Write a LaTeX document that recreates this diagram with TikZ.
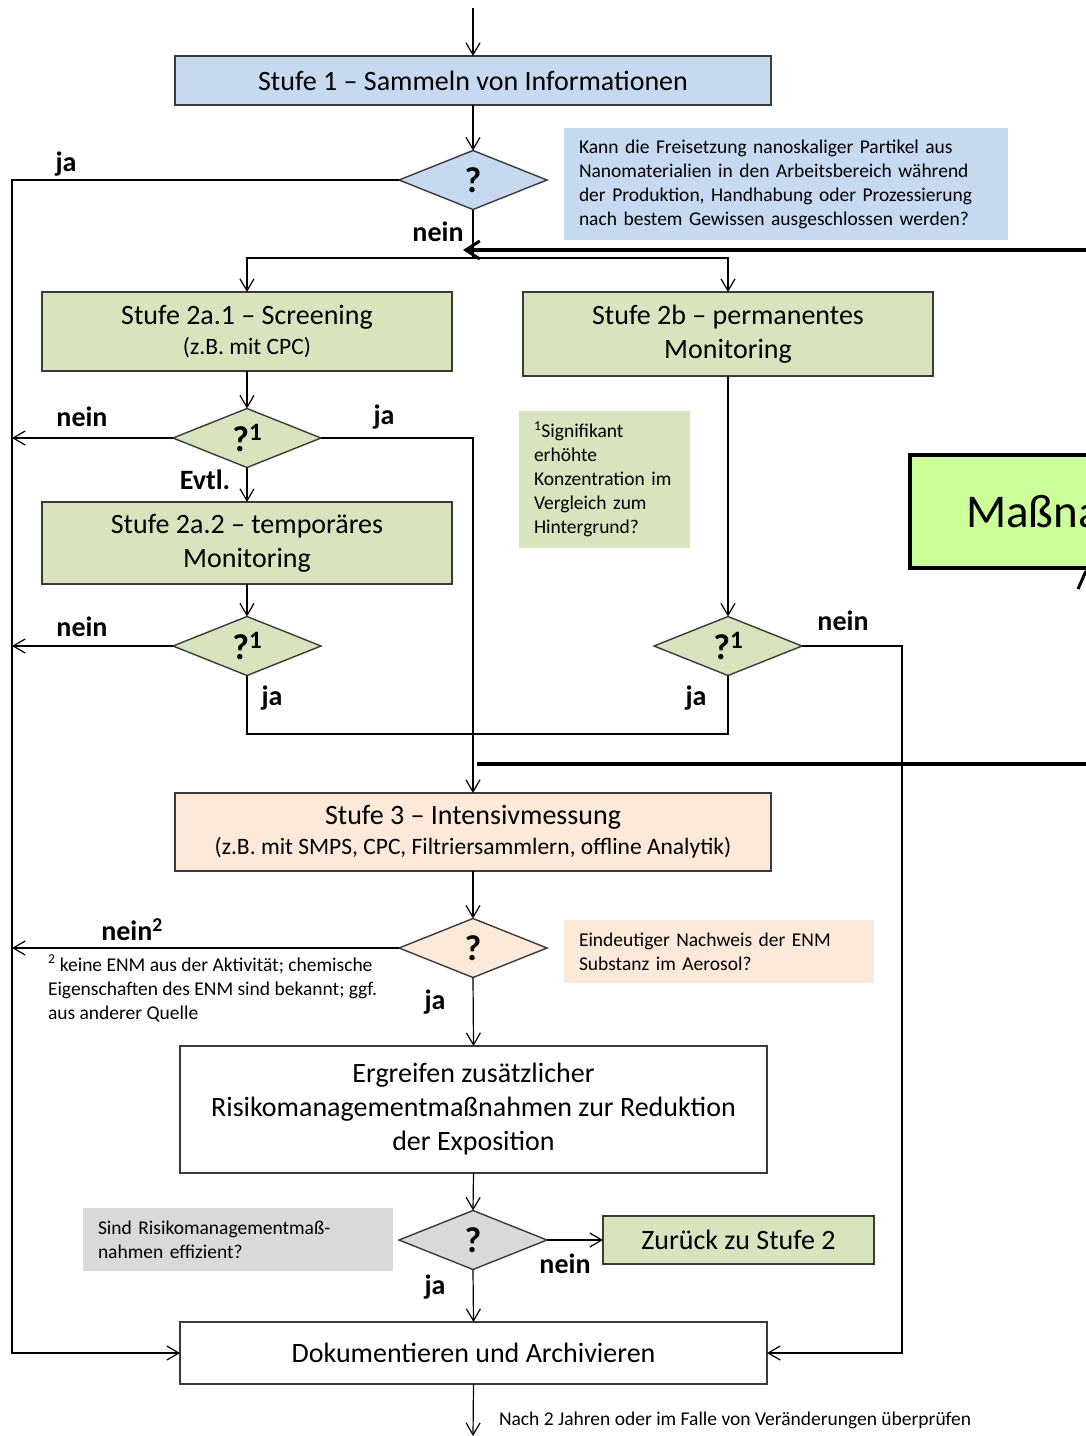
\documentclass[tikz,border=0pt]{standalone}
\usepackage{fontspec}
\setmainfont{Carlito}
\usetikzlibrary{arrows.meta,shapes.geometric}
\definecolor{cblue}{HTML}{C6D9F1}
\definecolor{cgreen}{HTML}{D7E4BD}
\definecolor{corange}{HTML}{FDE9D9}
\definecolor{cgray}{HTML}{D9D9D9}
\definecolor{clime}{HTML}{CCFF99}
\definecolor{cborder}{HTML}{3A3A3A}
\newcommand{\fbig}{\fontsize{28}{34}\selectfont}
\newcommand{\fsub}{\fontsize{23.5}{28}\selectfont}
\newcommand{\flab}{\fontsize{28}{30}\selectfont\bfseries}
\newcommand{\fnote}{\fontsize{19.5}{24}\selectfont}
\newcommand{\fq}{\fontsize{36}{36}\selectfont\bfseries}
\newcommand{\fhuge}{\fontsize{47}{50}\selectfont}
\newcommand{\qone}{?\raisebox{0.3em}{\fontsize{25}{25}\selectfont 1}}
\begin{document}
\begin{tikzpicture}[x=1pt,y=-1pt,
  every node/.style={inner sep=0pt, outer sep=0pt},
  box/.style={draw=cborder, line width=1.4pt, rectangle, align=center, font=\fbig},
  dia/.style={draw=cborder, line width=1.4pt, diamond, minimum width=148pt, minimum height=59pt, font=\fq},
  conn/.style={line width=1.2pt, draw=black},
  arr/.style={conn, -{Straight Barb[length=12pt,width=14pt,line width=1.2pt]}},
  lab/.style={font=\flab},
  note/.style={rectangle, align=left, font=\fnote, inner xsep=15pt, anchor=north west},
  heavy/.style={line width=3.6pt}
]
\useasboundingbox (0,0) rectangle (1086,1436);
\clip (0,0) rectangle (1086,1436);

% notes
\node[note, fill=cblue, text width=414pt, minimum height=112pt] (n1) at (564,128)
  {Kann die Freisetzung nanoskaliger\ Partikel aus\\Nanomaterialien in den Arbeitsbereich während\\der Produktion, Handhabung oder Prozessierung\\nach bestem Gewissen ausgeschlossen werden?};
\node[note, fill=cgreen, text width=141pt, minimum height=137pt] (n2) at (519,411)
  {\textsuperscript{1}Signifikant\\erhöhte\\Konzentration im\\Vergleich zum\\Hintergrund?};
\node[note, fill=corange, text width=280pt, minimum height=63pt] (n3) at (564,920)
  {Eindeutiger Nachweis der ENM\\Substanz im Aerosol?};
\node[note, fill=cgray, text width=280pt, minimum height=63pt] (n4) at (83,1208)
  {Sind Risikomanagementmaß-\\nahmen effizient?};
\node[note, inner xsep=0pt] (n5) at (48,955)
  {\textsuperscript{2} keine ENM aus der Aktivität;\ chemische\\Eigenschaften des ENM sind bekannt; ggf.\\aus anderer Quelle};
\node[note, inner xsep=0pt, anchor=west] (n6) at (499,1420)
  {Nach 2 Jahren oder im Falle von Veränderungen überprüfen};

% boxes
\node[box, fill=cblue, minimum width=596pt, minimum height=49pt] (s1) at (473,80.5)
  {Stufe 1 – Sammeln von Informationen};
\node[box, fill=cgreen, minimum width=410pt, minimum height=79pt] (s2a) at (247,331.5)
  {Stufe 2a.1 – Screening\\[-4pt]{\fsub (z.B. mit CPC)}};
\node[box, fill=cgreen, minimum width=410pt, minimum height=84pt] (s2b) at (728,334)
  {Stufe 2b – permanentes\\Monitoring};
\node[box, fill=cgreen, minimum width=410pt, minimum height=82pt] (s2c) at (247,543)
  {Stufe 2a.2 – temporäres\\Monitoring};
\node[box, fill=corange, minimum width=596pt, minimum height=78pt] (s3) at (473,832)
  {Stufe 3 – Intensivmessung\\[-4pt]{\fsub (z.B. mit SMPS, CPC, Filtriersammlern, offline Analytik)}};
\node[box, fill=white, minimum width=587pt, minimum height=127pt] (erg) at (473.5,1109.5)
  {Ergreifen zusätzlicher\\Risikomanagementmaßnahmen zur Reduktion\\der Exposition};
\node[box, fill=cgreen, minimum width=271pt, minimum height=48pt] (zur) at (738.5,1240)
  {Zurück zu Stufe 2};
\node[box, draw=black, line width=4pt, fill=clime, minimum height=113pt, anchor=west,
      text width=260pt, align=left, inner xsep=56pt] (mass) at (910,511.5)
  {\fhuge Maßnahmen};
\node[box, fill=white, minimum width=587pt, minimum height=62pt] (doku) at (473.5,1353)
  {Dokumentieren und Archivieren};

% diamonds
\node[dia, fill=cblue] (d1) at (473,180) {?};
\node[dia, fill=cgreen] (d2) at (247,438) {\qone};
\node[dia, fill=cgreen] (d3) at (247,646) {\qone};
\node[dia, fill=cgreen] (d4) at (728,646) {\qone};
\node[dia, fill=corange] (d5) at (473,948) {?};
\node[dia, fill=cgray] (d6) at (473,1240) {?};

% coordinates
\coordinate (top) at (473,8);
\coordinate (L) at (12,180);
\coordinate (split) at (473,258);
\coordinate (R) at (902,646);
\coordinate (jy) at (600,734);
\coordinate (bot) at (473,1436);
\coordinate (hA) at (1100,250);
\coordinate (tipA) at (463,250);
\coordinate (hB) at (1100,764);
\coordinate (endB) at (477,764);
\coordinate (m1) at (1078,589);
\coordinate (m2) at (1086,571);

% connectors
\draw[arr] (top) -- (s1.north);
\draw[arr] (s1.south) -- (d1.north);
\draw[arr] (d1.west) -- (L) |- (doku.west);
\draw[conn] (d1.south) -- (split);
\draw[arr] (split) -| (s2a.north);
\draw[arr] (split) -| (s2b.north);
\draw[arr] (s2a.south) -- (d2.north);
\draw[arr] (d2.west) -- (d2.west -| L);
\draw[arr] (d2.east) -| (s3.north);
\draw[arr] (d2.south) -- (s2c.north);
\draw[arr] (s2c.south) -- (d3.north);
\draw[arr] (d3.west) -- (d3.west -| L);
\draw[conn] (d3.south) |- (jy) -| (d4.south);
\draw[arr] (s2b.south) -- (d4.north);
\draw[arr] (d4.east) -- (R) |- (doku.east);
\draw[arr] (s3.south) -- (d5.north);
\draw[arr] (d5.west) -- (d5.west -| L);
\draw[arr] (d5.south) -- (erg.north);
\draw[arr] (erg.south) -- (d6.north);
\draw[arr] (d6.east) -- (zur.west);
\draw[arr] (d6.south) -- (doku.north);
\draw[arr] (doku.south) -- (bot);
\draw[heavy, -{Straight Barb[length=14pt,width=18pt,line width=3pt]}] (hA) -- (tipA);
\draw[heavy] (hB) -- (endB);
\draw[line width=3pt] (m1) -- (m2);

% labels
\node[lab] (l1) at (66,164) {ja};
\node[lab] (l2) at (438,232) {nein};
\node[lab] (l3) at (82,417) {nein};
\node[lab] (l4) at (384,417) {ja};
\node[lab] (l5) at (205,480) {Evtl.};
\node[lab] (l6) at (82,627) {nein};
\node[lab] (l7) at (272,698) {ja};
\node[lab] (l8) at (696,698) {ja};
\node[lab] (l9) at (843,621) {nein};
\node[lab] (l10) at (132,930) {nein\textsuperscript{2}};
\node[lab] (l11) at (435,1002) {ja};
\node[lab] (l12) at (565,1264) {nein};
\node[lab] (l13) at (435,1287) {ja};
\end{tikzpicture}
\end{document}
